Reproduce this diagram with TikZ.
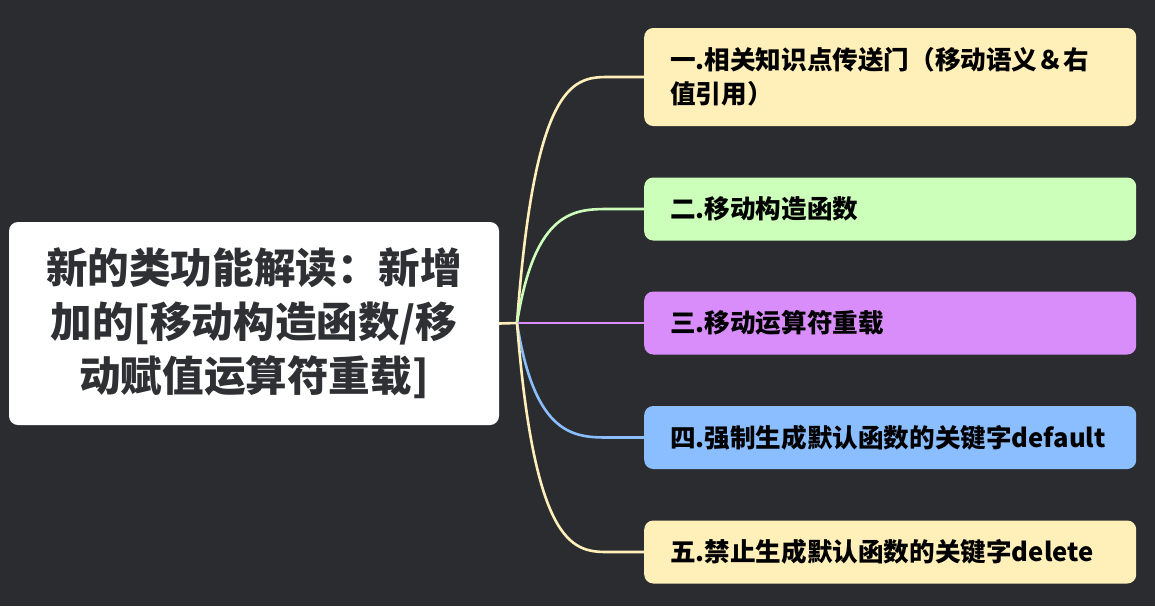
\documentclass[tikz,border=0pt]{standalone}
\usepackage{fontspec}
\setmainfont{Noto Sans CJK SC}
\usetikzlibrary{calc}
\definecolor{bg}{HTML}{2B2C30}
\definecolor{cyel}{HTML}{FFEFB9}
\definecolor{cgrn}{HTML}{CCFFBA}
\definecolor{cpur}{HTML}{D98DFA}
\definecolor{cblu}{HTML}{8ABEFF}
\definecolor{roottext}{HTML}{2F3034}
\begin{document}
\begin{tikzpicture}[x=1pt,y=-1pt,
  rootbox/.style={fill=white, rounded corners=9pt, minimum width=490pt, minimum height=203pt,
    align=center, text=roottext, font=\fontsize{41.6}{54}\selectfont\bfseries, inner sep=0pt},
  branch/.style={fill=#1, rounded corners=9pt, anchor=west, minimum width=486pt,
    text width=440pt, inner xsep=26pt, inner ysep=0pt, align=left, text=black,
    font=\fontsize{25.6}{34}\selectfont\bfseries},
  conn/.style={draw=#1, line width=2.6pt}
]
\useasboundingbox[fill=bg] (0,0) rectangle (1155,606);

\node[rootbox] (root) at (254,323.5) {新的类功能解读：新增\\加的[移动构造函数/移\\动赋值运算符重载]};

\node[branch=cyel, minimum height=98pt] (b1) at (644,77) {一.相关知识点传送门（移动语义＆右\\值引用）};
\node[branch=cgrn, minimum height=63pt] (b2) at (644,209) {二.移动构造函数};
\node[branch=cpur, minimum height=63pt] (b3) at (644,323) {三.移动运算符重载};
\node[branch=cblu, minimum height=63pt] (b4) at (644,437.5) {四.强制生成默认函数的关键字default};
\node[branch=cyel, minimum height=63pt] (b5) at (644,552) {五.禁止生成默认函数的关键字delete};

\coordinate (J) at (517,323);
\coordinate (h1) at (610,77);
\coordinate (h2) at (610,209);
\coordinate (h4) at (610,437.5);
\coordinate (h5) at (610,552);

\draw[conn=cyel] (root.east) -- (J);
\draw[conn=cyel] (J) .. controls ($(J |- h1)+(18,0)$) and ($(h1)+(-35,0)$) .. (h1) -- (b1.west);
\draw[conn=cgrn] (J) .. controls ($(J |- h2)+(18,0)$) and ($(h2)+(-35,0)$) .. (h2) -- (b2.west);
\draw[conn=cpur] (J) -- (b3.west);
\draw[conn=cblu] (J) .. controls ($(J |- h4)+(18,0)$) and ($(h4)+(-35,0)$) .. (h4) -- (b4.west);
\draw[conn=cyel] (J) .. controls ($(J |- h5)+(18,0)$) and ($(h5)+(-35,0)$) .. (h5) -- (b5.west);
\end{tikzpicture}
\end{document}
